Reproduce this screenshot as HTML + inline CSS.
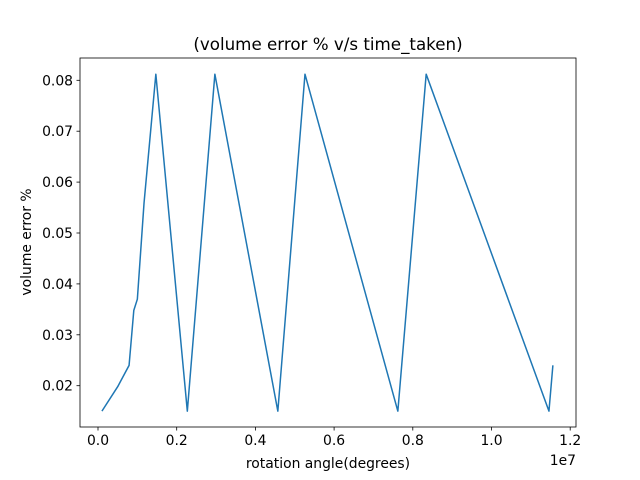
<!DOCTYPE html>
<html><head><meta charset="utf-8"><style>body{margin:0;background:#fff}svg{display:block}text{font-family:"DejaVu Sans","Liberation Sans",sans-serif;fill:#000}</style></head>
<body>
<svg id="chart" width="640" height="480" xmlns="http://www.w3.org/2000/svg"></svg>
<script>
const xVals=[0.01e7,0.05e7,0.079e7,0.091e7,0.1e7,0.117e7,0.147e7,0.227e7,0.297e7,0.457e7,0.526e7,0.762e7,0.834e7,1.146e7,1.156e7];
const yVals=[0.015,0.0198,0.024,0.0348,0.037,0.0559,0.0812,0.015,0.0812,0.015,0.0812,0.015,0.0812,0.015,0.024];
const xTicks=[0,0.2,0.4,0.6,0.8,1.0,1.2];
const xTickLabels=["0.0","0.2","0.4","0.6","0.8","1.0","1.2"];
const yTicks=[0.02,0.03,0.04,0.05,0.06,0.07,0.08];
const yTickLabels=["0.02","0.03","0.04","0.05","0.06","0.07","0.08"];
const NS="http://www.w3.org/2000/svg",svg=document.getElementById('chart');
const L=80,R=576,T=58,B=427;
const xs=v=>98+v/1e7*393.5;
const ys=v=>385.7-(v-0.02)/0.01*50.9;
function el(t,a,txt){const e=document.createElementNS(NS,t);for(const k in a)e.setAttribute(k,a[k]);if(txt!==undefined)e.textContent=txt;svg.appendChild(e);return e;}
const line=el('polyline',{points:xVals.map((x,i)=>xs(x)+','+ys(yVals[i])).join(' '),fill:'none',stroke:'#1f77b4','stroke-width':1.5,'stroke-linejoin':'round'});


const frame=el('rect',{x:L,y:T,width:R-L,height:B-T,fill:'none',stroke:'#000','stroke-width':0.8});


xTicks.forEach((t,i)=>{const x=xs(t*1e7);el('line',{x1:x,x2:x,y1:B,y2:B+3.5,stroke:'#000','stroke-width':0.8});
const lb=el('text',{x:x,y:B+18,'font-size':13.9,'text-anchor':'middle'},xTickLabels[i]);

});
yTicks.forEach((t,i)=>{const y=ys(t);el('line',{x1:L-3.5,x2:L,y1:y,y2:y,stroke:'#000','stroke-width':0.8});
const lb=el('text',{x:L-7,y:y+5,'font-size':13.9,'text-anchor':'end'},yTickLabels[i]);

});
const off=el('text',{x:576,y:465,'font-size':13.9,'text-anchor':'end'},'1e7');


const xt=el('text',{x:328,y:468,'font-size':13.9,'text-anchor':'middle'},'rotation angle(degrees)');


const yt=el('text',{x:0,y:0,'font-size':13.9,'text-anchor':'middle',transform:'translate(31,242) rotate(-90)'},'volume error %');


const ti=el('text',{x:328,y:50,'font-size':16.7,'text-anchor':'middle'},'(volume error % v/s time_taken)');


</script>
</body></html>
